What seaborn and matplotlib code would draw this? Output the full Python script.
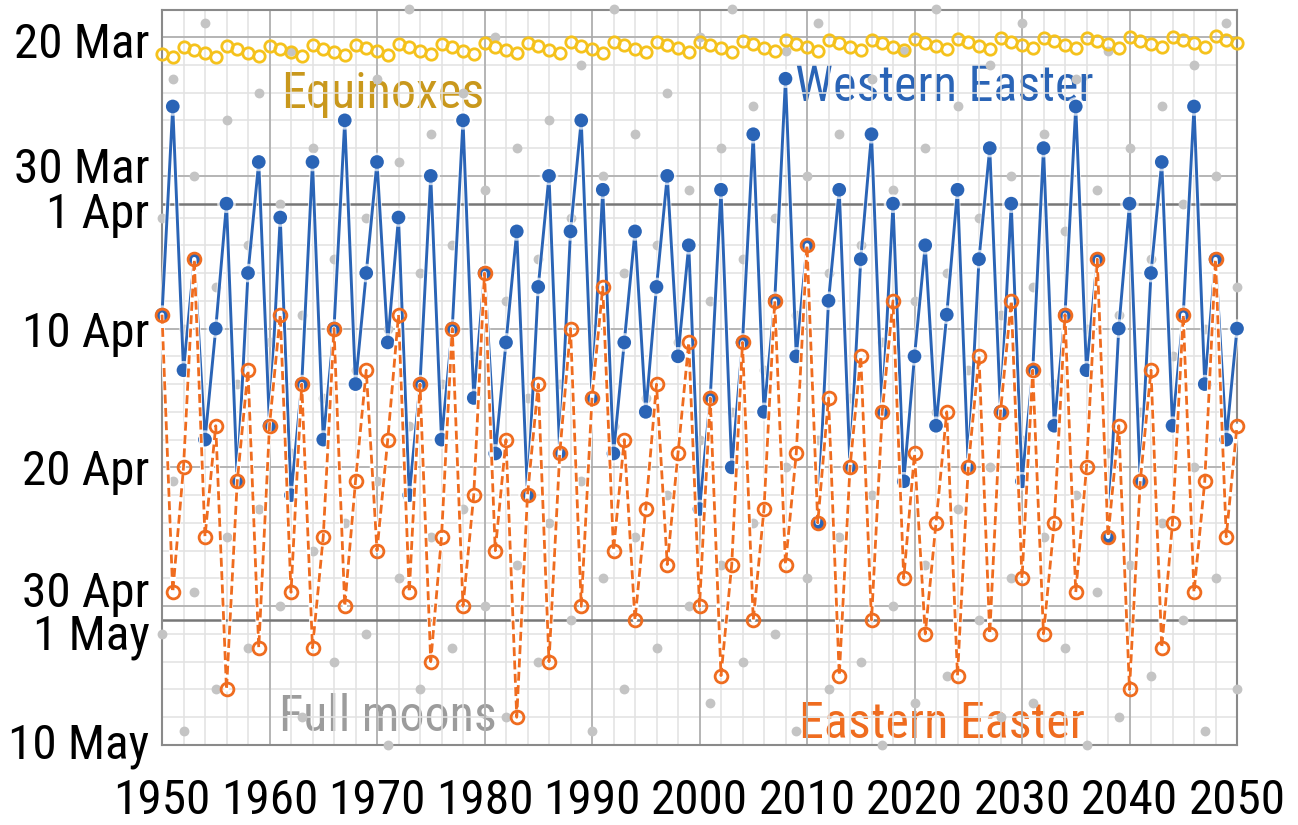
import matplotlib
matplotlib.use("Agg")
import matplotlib.pyplot as plt
import matplotlib.patheffects as pe
from matplotlib import font_manager
from matplotlib.transforms import ScaledTranslation
import seaborn as sns
import pandas as pd

# ---------------- data ----------------
years = list(range(1950, 2051))

western = [
    "04-09", "03-25", "04-13", "04-05", "04-18", "04-10", "04-01", "04-21", "04-06", "03-29",
    "04-17", "04-02", "04-22", "04-14", "03-29", "04-18", "04-10", "03-26", "04-14", "04-06",
    "03-29", "04-11", "04-02", "04-22", "04-14", "03-30", "04-18", "04-10", "03-26", "04-15",
    "04-06", "04-19", "04-11", "04-03", "04-22", "04-07", "03-30", "04-19", "04-03", "03-26",
    "04-15", "03-31", "04-19", "04-11", "04-03", "04-16", "04-07", "03-30", "04-12", "04-04",
    "04-23", "04-15", "03-31", "04-20", "04-11", "03-27", "04-16", "04-08", "03-23", "04-12",
    "04-04", "04-24", "04-08", "03-31", "04-20", "04-05", "03-27", "04-16", "04-01", "04-21",
    "04-12", "04-04", "04-17", "04-09", "03-31", "04-20", "04-05", "03-28", "04-16", "04-01",
    "04-21", "04-13", "03-28", "04-17", "04-09", "03-25", "04-13", "04-05", "04-25", "04-10",
    "04-01", "04-21", "04-06", "03-29", "04-17", "04-09", "03-25", "04-14", "04-05", "04-18",
    "04-10",
]

eastern = [
    "04-09", "04-29", "04-20", "04-05", "04-25", "04-17", "05-06", "04-21", "04-13", "05-03",
    "04-17", "04-09", "04-29", "04-14", "05-03", "04-25", "04-10", "04-30", "04-21", "04-13",
    "04-26", "04-18", "04-09", "04-29", "04-14", "05-04", "04-25", "04-10", "04-30", "04-22",
    "04-06", "04-26", "04-18", "05-08", "04-22", "04-14", "05-04", "04-19", "04-10", "04-30",
    "04-15", "04-07", "04-26", "04-18", "05-01", "04-23", "04-14", "04-27", "04-19", "04-11",
    "04-30", "04-15", "05-05", "04-27", "04-11", "05-01", "04-23", "04-08", "04-27", "04-19",
    "04-04", "04-24", "04-15", "05-05", "04-20", "04-12", "05-01", "04-16", "04-08", "04-28",
    "04-19", "05-02", "04-24", "04-16", "05-05", "04-20", "04-12", "05-02", "04-16", "04-08",
    "04-28", "04-13", "05-02", "04-24", "04-09", "04-29", "04-20", "04-05", "04-25", "04-17",
    "05-06", "04-21", "04-13", "05-03", "04-24", "04-09", "04-29", "04-21", "04-05", "04-25",
    "04-17",
]

# March equinox, as fractional day of March (UTC)
equinox = [
    21.19, 21.43, 20.68, 20.92, 21.16, 21.40, 20.64, 20.89, 21.13, 21.37,
    20.61, 20.86, 21.10, 21.34, 20.58, 20.83, 21.07, 21.31, 20.55, 20.78,
    21.03, 21.28, 20.50, 20.75, 21.00, 21.24, 20.47, 20.72, 20.97, 21.21,
    20.45, 20.69, 20.94, 21.18, 20.42, 20.66, 20.91, 21.15, 20.39, 20.63,
    20.88, 21.12, 20.35, 20.60, 20.85, 21.09, 20.34, 20.57, 20.82, 21.06,
    20.32, 20.56, 20.80, 21.04, 20.28, 20.52, 20.77, 21.00, 20.24, 20.49,
    20.73, 20.97, 20.22, 20.46, 20.71, 20.95, 20.19, 20.44, 20.68, 20.92,
    20.16, 20.40, 20.65, 20.89, 20.13, 20.38, 20.62, 20.85, 20.10, 20.33,
    20.58, 20.82, 20.06, 20.31, 20.55, 20.79, 20.04, 20.28, 20.53, 20.77,
    20.01, 20.25, 20.50, 20.73, 19.97, 20.21, 20.46, 20.70, 19.94, 20.19,
    20.43,
]

# Full moons falling between 18 Mar and 10 May
fm_years = [
    1950, 1950, 1951, 1951, 1952, 1952, 1953, 1953, 1954, 1954, 1955, 1955, 1956, 1956, 1957,
    1958, 1958, 1959, 1959, 1960, 1961, 1961, 1962, 1962, 1963, 1963, 1964, 1964, 1965,
    1966, 1966, 1967, 1967, 1968, 1969, 1969, 1970, 1970, 1971, 1971, 1972, 1972, 1973, 1973,
    1974, 1974, 1975, 1975, 1976, 1977, 1977, 1978, 1978, 1979, 1980, 1980, 1981, 1981,
    1982, 1982, 1983, 1983, 1984, 1985, 1985, 1986, 1986, 1987, 1988, 1988, 1989, 1989,
    1990, 1990, 1991, 1991, 1992, 1992, 1993, 1993, 1994, 1994, 1995, 1996, 1996, 1997, 1997,
    1998, 1999, 1999, 2000, 2000, 2001, 2001, 2002, 2002, 2003, 2003, 2004, 2004, 2005, 2005,
    2006, 2007, 2007, 2008, 2008, 2009, 2009, 2010, 2010, 2011, 2011, 2012, 2012, 2013, 2013,
    2014, 2015, 2015, 2016, 2016, 2017, 2017, 2018, 2018, 2019, 2019, 2020, 2020, 2021, 2021,
    2022, 2022, 2023, 2023, 2024, 2024, 2025, 2026, 2026, 2027, 2027, 2028, 2028, 2029, 2029,
    2030, 2030, 2031, 2031, 2032, 2032, 2033, 2034, 2034, 2035, 2035, 2036, 2036, 2037, 2037,
    2038, 2038, 2039, 2039, 2040, 2040, 2041, 2042, 2042, 2043, 2043, 2044, 2045, 2045,
    2046, 2046, 2047, 2047, 2048, 2048, 2049, 2049, 2050, 2050,
]
fm_dates = [
    "04-02", "05-02", "03-23", "04-21", "04-10", "05-09", "03-30", "04-29", "03-19", "04-18",
    "04-07", "05-06", "03-26", "04-25", "04-14",
    "04-04", "05-03", "03-24", "04-23", "04-11", "04-01", "04-30", "03-21", "04-19", "04-09",
    "05-08", "03-28", "04-26", "04-15",
    "04-05", "05-04", "03-26", "04-24", "04-13", "04-02", "05-02", "03-23", "04-21", "04-10",
    "05-10", "03-29", "04-28", "03-18", "04-17",
    "04-06", "05-06", "03-27", "04-25", "04-14", "04-04", "05-03", "03-24", "04-23", "04-12",
    "03-31", "04-30", "03-20", "04-19",
    "04-08", "05-08", "03-28", "04-27", "04-15", "04-05", "05-04", "03-26", "04-24", "04-14",
    "04-02", "05-01", "03-22", "04-21",
    "04-10", "05-09", "03-30", "04-28", "03-18", "04-17", "04-06", "05-06", "03-27", "04-25",
    "04-15", "04-04", "05-03", "03-24", "04-22",
    "04-11", "03-31", "04-30", "03-20", "04-18", "04-08", "05-07", "03-28", "04-27", "03-18",
    "04-16", "04-05", "05-04", "03-25", "04-24",
    "04-13", "04-02", "05-02", "03-21", "04-20", "04-09", "05-09", "03-30", "04-28", "03-19",
    "04-18", "04-06", "05-06", "03-27", "04-25",
    "04-15", "04-04", "05-04", "03-23", "04-22", "04-11", "05-10", "03-31", "04-30", "03-21",
    "04-19", "04-08", "05-07", "03-28", "04-27",
    "03-18", "04-16", "04-06", "05-05", "03-25", "04-23", "04-13", "04-02", "05-01", "03-22",
    "04-20", "04-09", "05-08", "03-30", "04-28",
    "03-19", "04-18", "04-07", "05-07", "03-27", "04-25", "04-14", "04-03", "05-03", "03-23",
    "04-22", "04-10", "05-10", "03-31", "04-29",
    "03-21", "04-19", "04-09", "05-08", "03-28", "04-27", "04-16", "04-05", "05-05", "03-25",
    "04-24", "04-12", "04-01", "05-01",
    "03-22", "04-20", "04-10", "05-09", "03-30", "04-28", "03-19", "04-17", "04-07", "05-06",
]

ytick_dates = ["03-20", "03-30", "04-01", "04-10", "04-20", "04-30", "05-01", "05-10"]
ytick_labels = ["20 Mar", "30 Mar", "1 Apr", "10 Apr", "20 Apr", "30 Apr", "1 May", "10 May"]
xtick_years = list(range(1950, 2051, 10))

series_labels = {"western": "Western Easter", "eastern": "Eastern Easter",
                 "equinox": "Equinoxes", "moons": "Full moons"}

# ---------------- helpers ----------------
MONTH_START = {3: 0, 4: 31, 5: 61}


def day_of_march(s):
    m, d = (int(v) for v in s.split("-"))
    return MONTH_START[m] + d


df = pd.DataFrame({
    "year": years,
    "western": [day_of_march(s) for s in western],
    "eastern": [day_of_march(s) for s in eastern],
    "equinox": equinox,
})
moons = pd.DataFrame({"year": fm_years, "day": [day_of_march(s) for s in fm_dates]})

# ---------------- fonts ----------------
avail = {f.name for f in font_manager.fontManager.ttflist}
family = None
for cand in ["Liberation Sans Narrow", "Arial Narrow", "Roboto Condensed",
             "Noto Sans Condensed", "Open Sans Condensed"]:
    if cand in avail:
        family = cand
        break
stretch = "normal"
if family is None:
    family = "DejaVu Sans"
    stretch = "condensed"

sns.set_theme(style="white")
plt.rcParams["font.family"] = [family, "DejaVu Sans"]
plt.rcParams["font.stretch"] = stretch

C_WEST = "#2a64b6"
C_EAST = "#ef6c1f"
C_EQX = "#f5c21c"
C_EQX_TXT = "#c9981c"
C_MOON = "#c4c4c4"
C_MOON_TXT = "#9c9c9c"

W, H = 1298, 825
fig = plt.figure(figsize=(W / 100, H / 100), dpi=100)
fig.patch.set_facecolor("white")
ax = fig.add_axes([162 / W, 1 - 745 / H, (1237 - 162) / W, (745 - 10) / H])
ax.set_facecolor("white")

# ---------------- grid ----------------
ax.set_axisbelow(True)
minor_y = []
for m, (lo, hi) in {3: (18, 30), 4: (2, 30), 5: (2, 10)}.items():
    minor_y += [MONTH_START[m] + d for d in range(lo, hi + 1, 2)]
for yv in minor_y:
    ax.axhline(yv, color="#e2e2e2", lw=1.1, zorder=0.5)
for yr in range(1952, 2050, 2):
    ax.axvline(yr, color="#e2e2e2", lw=1.1, zorder=0.5)
for yr in xtick_years:
    ax.axvline(yr, color="#a8a8a8", lw=1.1, zorder=0.6)
for s in ytick_dates:
    dark = s.endswith("-01")
    ax.axhline(day_of_march(s), color="#777777" if dark else "#a8a8a8",
               lw=1.8 if dark else 1.1, zorder=0.6)

# ---------------- annotations (behind grid) ----------------
txt_kw = dict(fontsize=36, ha="left", va="baseline", zorder=0.3)
ax.text(1961.1, 25.1, series_labels["equinox"], color=C_EQX_TXT, **txt_kw)
ax.text(2008.9, 24.6, series_labels["western"], color=C_WEST, **txt_kw)
ax.text(2009.3, 70.5, series_labels["eastern"], color=C_EAST, **txt_kw)
ax.text(1960.9, 70.0, series_labels["moons"], color=C_MOON_TXT, **txt_kw)

# ---------------- data ----------------
sns.scatterplot(data=moons, x="year", y="day", ax=ax, color=C_MOON, s=50,
                linewidth=0, zorder=1, clip_on=False, legend=False)

sns.lineplot(data=df, x="year", y="equinox", ax=ax, color=C_EQX, linestyle="",
             marker="o", markersize=8.2, markerfacecolor="none",
             markeredgecolor=C_EQX, markeredgewidth=2.0,
             estimator=None, sort=False, zorder=2, clip_on=False)

sns.lineplot(data=df, x="year", y="western", ax=ax, color=C_WEST, lw=2.1,
             marker="o", markersize=9.8, markeredgewidth=0,
             estimator=None, sort=False, zorder=3, clip_on=False,
             path_effects=[pe.Stroke(linewidth=3.6, foreground="white", alpha=0.7),
                           pe.Normal()])

sns.lineplot(data=df, x="year", y="eastern", ax=ax, color="white", lw=3.2,
             estimator=None, sort=False, zorder=3.5, clip_on=False)
sns.lineplot(data=df, x="year", y="eastern", ax=ax, color=C_EAST, lw=2.0,
             dashes=False, linestyle=(0, (3.2, 1.6)),
             marker="o", markersize=9.2, markerfacecolor="none",
             markeredgecolor=C_EAST, markeredgewidth=2.0,
             estimator=None, sort=False, zorder=4, clip_on=False)

# ---------------- axes ----------------
ax.set_xlim(1950, 2050)
ax.set_ylim(71, 18.05)
ax.set_xlabel("")
ax.set_ylabel("")
ax.set_xticks(xtick_years)
ax.set_xticklabels([str(y) for y in xtick_years])
ax.set_yticks([day_of_march(s) for s in ytick_dates])
ax.set_yticklabels(ytick_labels)
ax.tick_params(axis="x", length=0, pad=24, labelsize=35.5, labelcolor="black")
ax.tick_params(axis="y", length=0, pad=9, labelsize=35.5, labelcolor="black")

# nudge crowded y labels apart
offsets_px = {"20 Mar": -3, "30 Mar": 11, "1 Apr": -6, "30 Apr": 17, "1 May": -12, "10 May": 4}
for tick, lab in zip(ax.yaxis.get_major_ticks(), ytick_labels):
    dy = offsets_px.get(lab, 0)
    if dy:
        tick.label1.set_transform(tick.label1.get_transform()
                                  + ScaledTranslation(0, dy / 100, fig.dpi_scale_trans))

for sp in ax.spines.values():
    sp.set_color("#8a8a8a")
    sp.set_linewidth(1.5)
    sp.set_visible(True)
    sp.set_zorder(0.7)

fig.savefig("out.png", dpi=100, facecolor="white")
